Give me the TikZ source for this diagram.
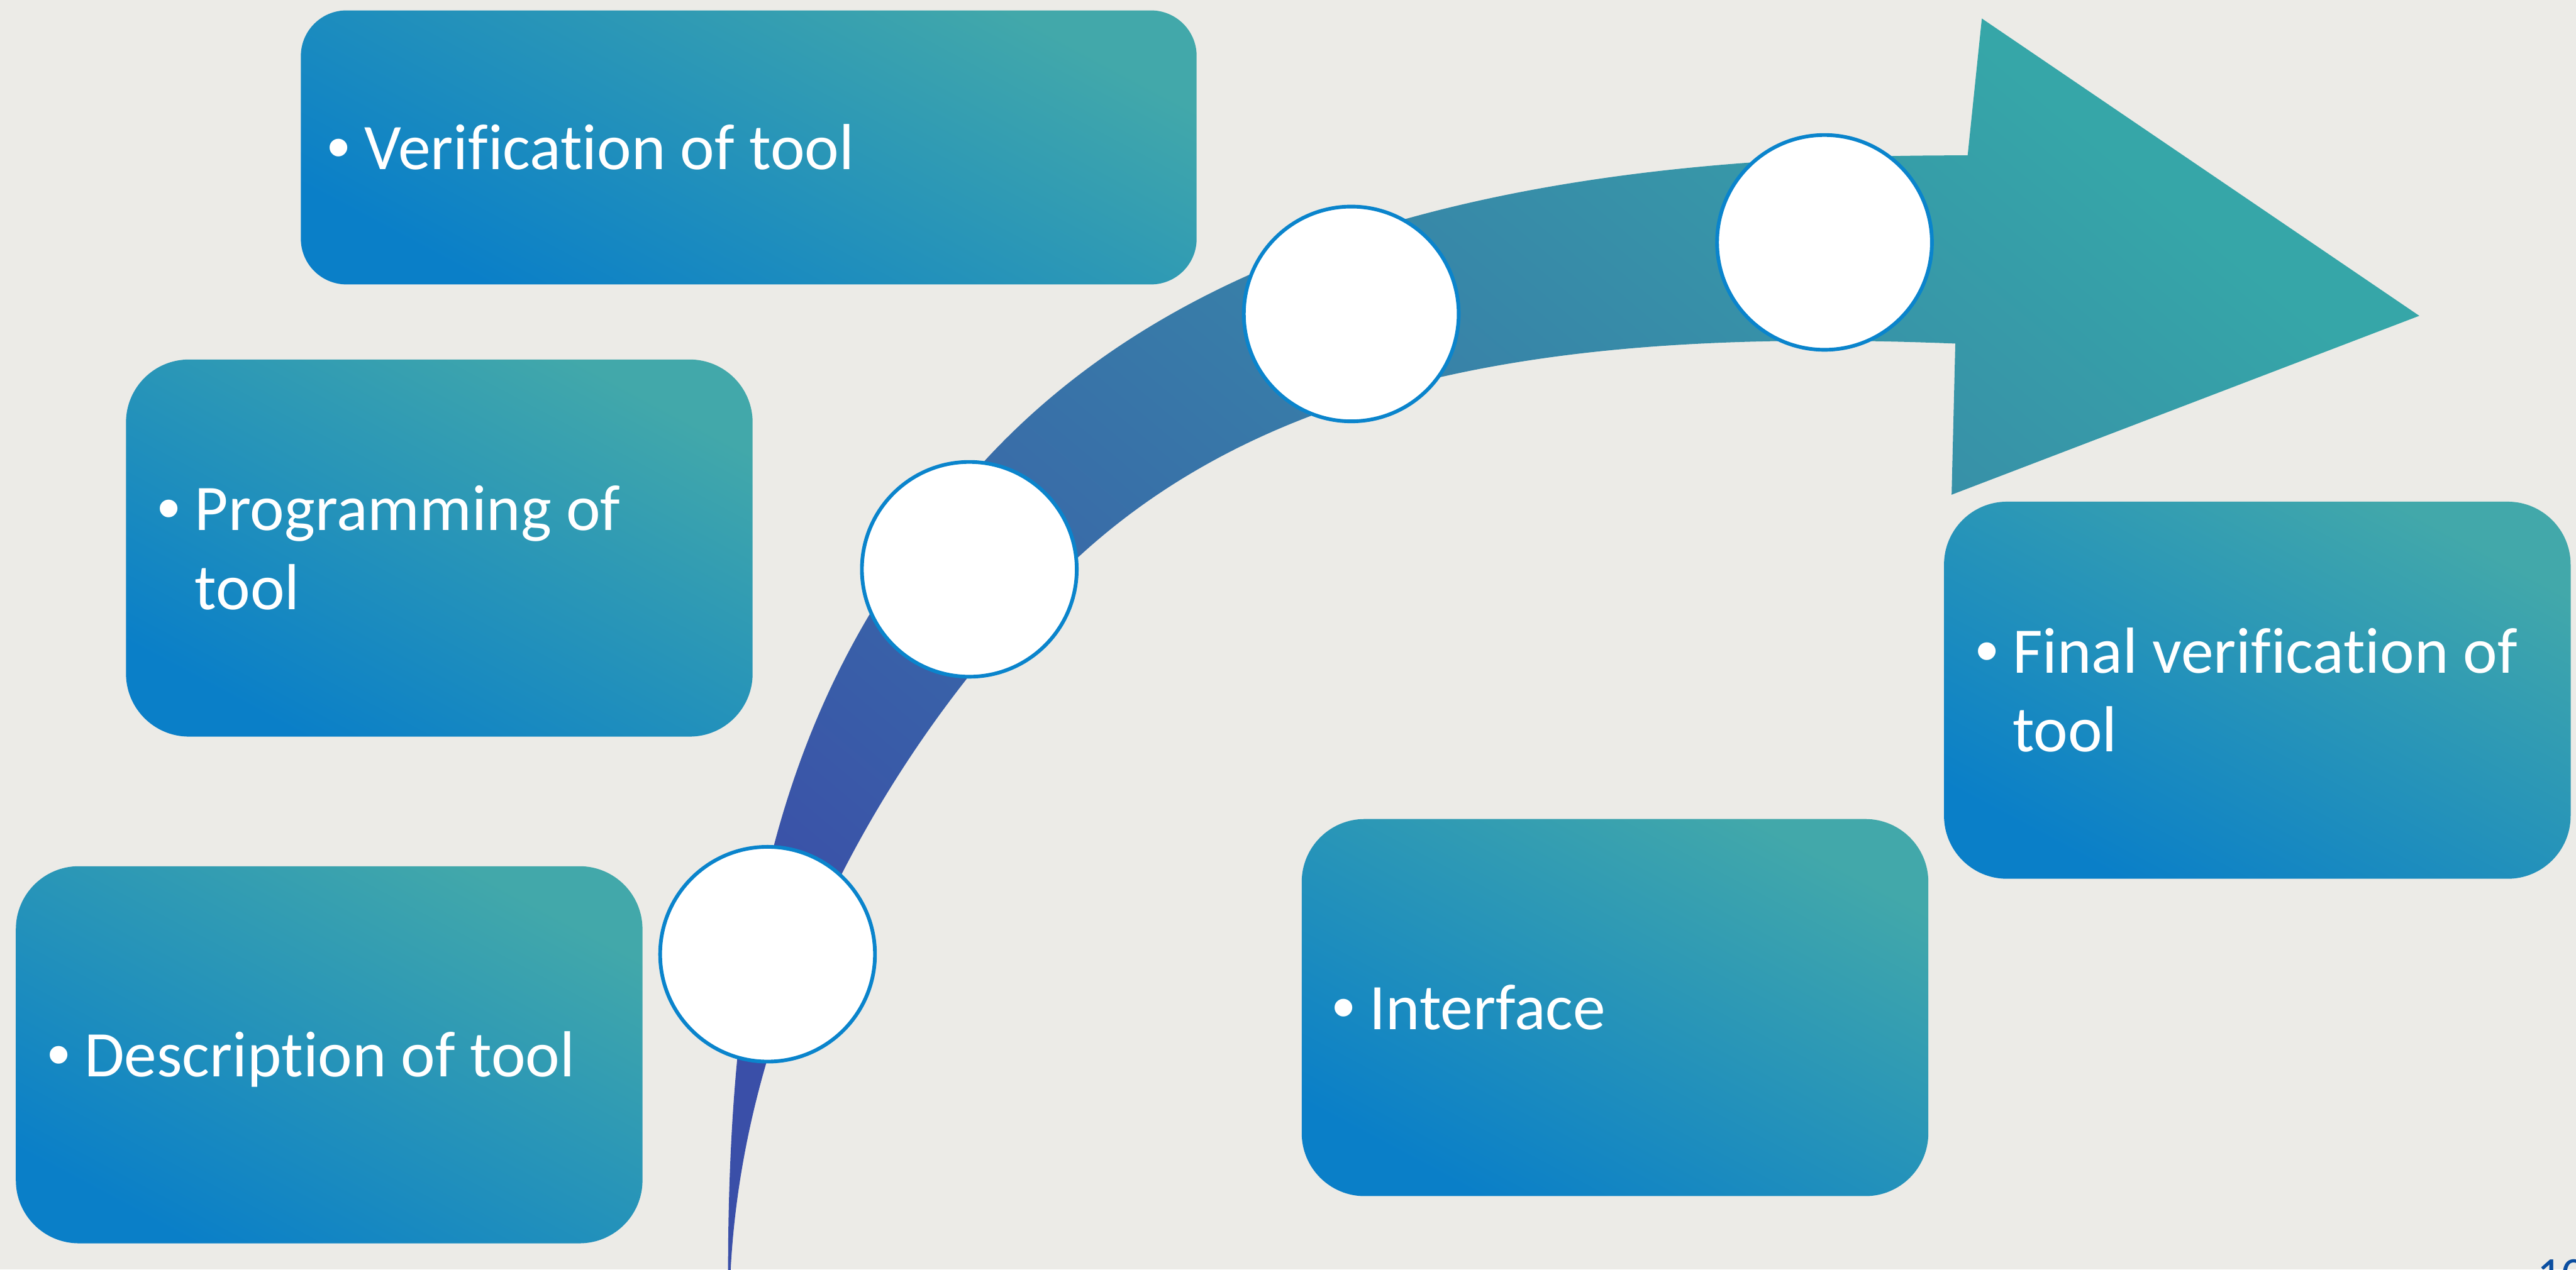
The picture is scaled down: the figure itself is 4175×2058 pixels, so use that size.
\documentclass[tikz,border=0pt]{standalone}
\usepackage{fontspec}
\setmainfont{Carlito}[Ligatures={NoCommon,NoContextual,NoDiscretionary,NoRare}]
\newfontfamily\bulletfont{Liberation Sans}
\definecolor{bg}{HTML}{ECEBE7}
\definecolor{boxblue}{HTML}{0A7FC8}
\definecolor{boxteal}{HTML}{42A8AA}
\definecolor{bandblue}{HTML}{3A4FA8}
\definecolor{bandteal}{HTML}{36A6A8}
\definecolor{ringblue}{HTML}{0A84CC}
\definecolor{pagenum}{HTML}{0B4EA0}
\newlength{\bulw}\setlength{\bulw}{0.6cm}
\newcommand{\bulitem}{\makebox[\bulw][l]{\bulletfont\char"2022}}
\begin{document}
\begin{tikzpicture}[x=0.01cm, y=-0.01cm,
  stepbox/.style={inner sep=0, outer sep=0, draw=none,
    bottom color=boxblue, top color=boxteal, shading angle=-28},
  bigbox/.style={stepbox, minimum width=10.15cm, minimum height=6.11cm, rounded corners=1.02cm},
  ring/.style={circle, fill=white, draw=ringblue, line width=0.06cm,
    minimum size=3.48cm, inner sep=0},
  txt/.style={text=white, font=\fontsize{30pt}{36.4pt}\selectfont,
    inner sep=0, anchor=base west},
  bandshade/.style={bottom color=bandblue, top color=bandteal, shading angle=-40}]
  % page and background
  \useasboundingbox (0,0) rectangle (4175,2058);
  \fill[bg] (0,0) rectangle (4175,2058);

  % process boxes
  \node[stepbox, minimum width=14.51cm, minimum height=4.44cm, rounded corners=0.74cm] (b1) at (1213.5,239) {};
  \node[bigbox] (b2) at (712,888.5) {};
  \node[bigbox] (b3) at (533.5,1710) {};
  \node[bigbox] (b4) at (2617.5,1633.5) {};
  \node[bigbox] (b5) at (3658.5,1119) {};

  % curved timeline arrow: outer edge, arrow head, inner edge
  \shade[bandshade]
    (1180,2062) .. controls (1180,1460) and (1291,1080) .. (1595,748)
    .. controls (1933,380) and (2489,250) .. (3189,252)
    -- (3212,30) -- (3921,512) -- (3163,802) -- (3169,557)
    .. controls (2569,533) and (2082,597) .. (1750,901)
    .. controls (1507,1124) and (1209,1560) .. (1184,2062)
    -- cycle;

  % milestone circles
  \node[ring] (c1) at (1244,1547) {};
  \node[ring] (c2) at (1571,923) {};
  \node[ring] (c3) at (2190,509) {};
  \node[ring] (c4) at (2957,393) {};

  % box texts
  \node[txt] (t1) at (530,275) {\begin{tabular}[t]{@{}l@{}l@{}}\bulitem&Verification of tool\end{tabular}};
  \node[txt] (t2) at (255,860) {\begin{tabular}[t]{@{}l@{}l@{}}\bulitem&Programming of\\&tool\end{tabular}};
  \node[txt] (t3) at (76,1746) {\begin{tabular}[t]{@{}l@{}l@{}}\bulitem&Description of tool\end{tabular}};
  \node[txt] (t4) at (2159,1669) {\begin{tabular}[t]{@{}l@{}l@{}}\bulitem&Interface\end{tabular}};
  \node[txt] (t5) at (3201,1091) {\begin{tabular}[t]{@{}l@{}l@{}}\bulitem&Final verification of\\&tool\end{tabular}};

  % slide number
  \node[text=pagenum, font=\fontsize{22pt}{26pt}\selectfont, inner sep=0, anchor=base west] (pg) at (4112,2092) {10};
\end{tikzpicture}
\end{document}
